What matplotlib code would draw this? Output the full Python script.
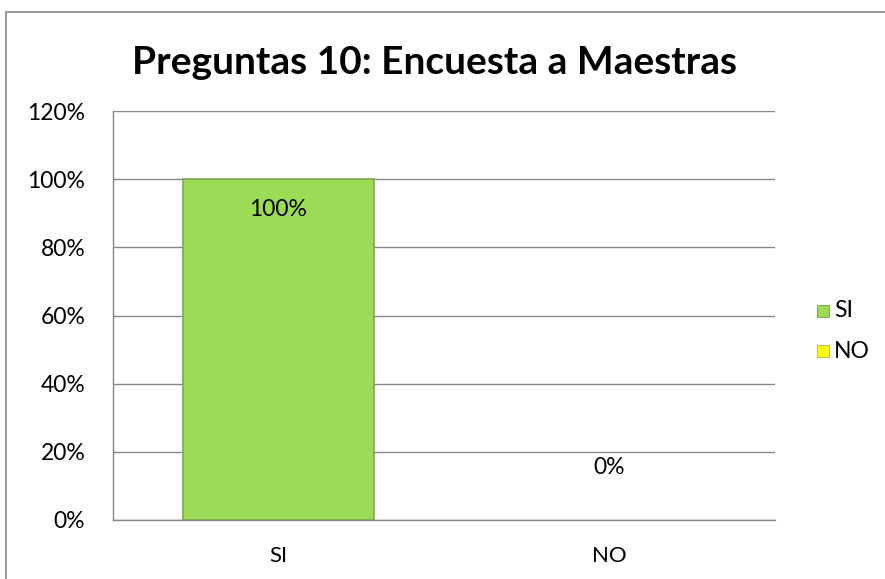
import matplotlib
matplotlib.use("Agg")
import matplotlib.pyplot as plt
from matplotlib.patches import Rectangle
from matplotlib.ticker import FuncFormatter

categories = ["SI", "NO"]
values = [1.00, 0.00]
labels = ["100%", "0%"]
colors = ["#9BDB55", "#FFFF00"]

plt.rcParams['font.family'] = ['Lato', 'DejaVu Sans']

fig = plt.figure(figsize=(8.85, 5.79), dpi=100)
ax = fig.add_axes([113/885, 1-520/579, (775-113)/885, (520-111)/579])

x = range(len(categories))
bars = ax.bar(x, values, width=0.577, color=colors, edgecolor=["#7FA94F", "none"], linewidth=1.2, zorder=3)

ax.set_ylim(0, 1.2)
ax.set_xlim(-0.5, 1.5)
ax.set_yticks([0, 0.2, 0.4, 0.6, 0.8, 1.0, 1.2])
ax.yaxis.set_major_formatter(FuncFormatter(lambda v, p: f"{v*100:.0f}%"))
ax.set_xticks(list(x))
ax.set_xticklabels(categories)
ax.tick_params(axis='y', length=0, labelsize=16.5, pad=20)
ax.tick_params(axis='x', length=0, labelsize=16, pad=18.5)
ax.grid(axis='y', color="#868686", linewidth=1.0, zorder=0)
for s in ["top", "right"]:
    ax.spines[s].set_visible(False)
for s in ["left", "bottom"]:
    ax.spines[s].set_color("#868686")
    ax.spines[s].set_linewidth(1.0)
ax.spines["bottom"].set_zorder(5)

# data labels
ax.text(0, 0.91, labels[0], ha='center', va='center', fontsize=16.5, zorder=4)
ax.text(1, 0.155, labels[1], ha='center', va='center', fontsize=16.5, zorder=4)

fig.text(434/885, 1-62/579, "Preguntas 10: Encuesta a Maestras", ha='center', va='center',
         fontsize=28, fontweight='bold')

# legend
for i, (cat, col) in enumerate(zip(categories, colors)):
    yy = 1 - (311 + 40*i)/579
    fig.patches.append(Rectangle((817/885, yy - 6/579), 12/885, 12/579, transform=fig.transFigure,
                                 facecolor=col, edgecolor="#B0B040" if i else "#6E9E3A", linewidth=0.6))
    fig.text(834/885, yy, cat, ha='left', va='center', fontsize=16.5)

# outer chart border
fig.patches.append(Rectangle((6/885, -0.05), 1.1, 1 - 12/579 + 0.05, transform=fig.transFigure,
                             facecolor='none', edgecolor="#868686", linewidth=1.2))

fig.savefig("out.png", dpi=100)
